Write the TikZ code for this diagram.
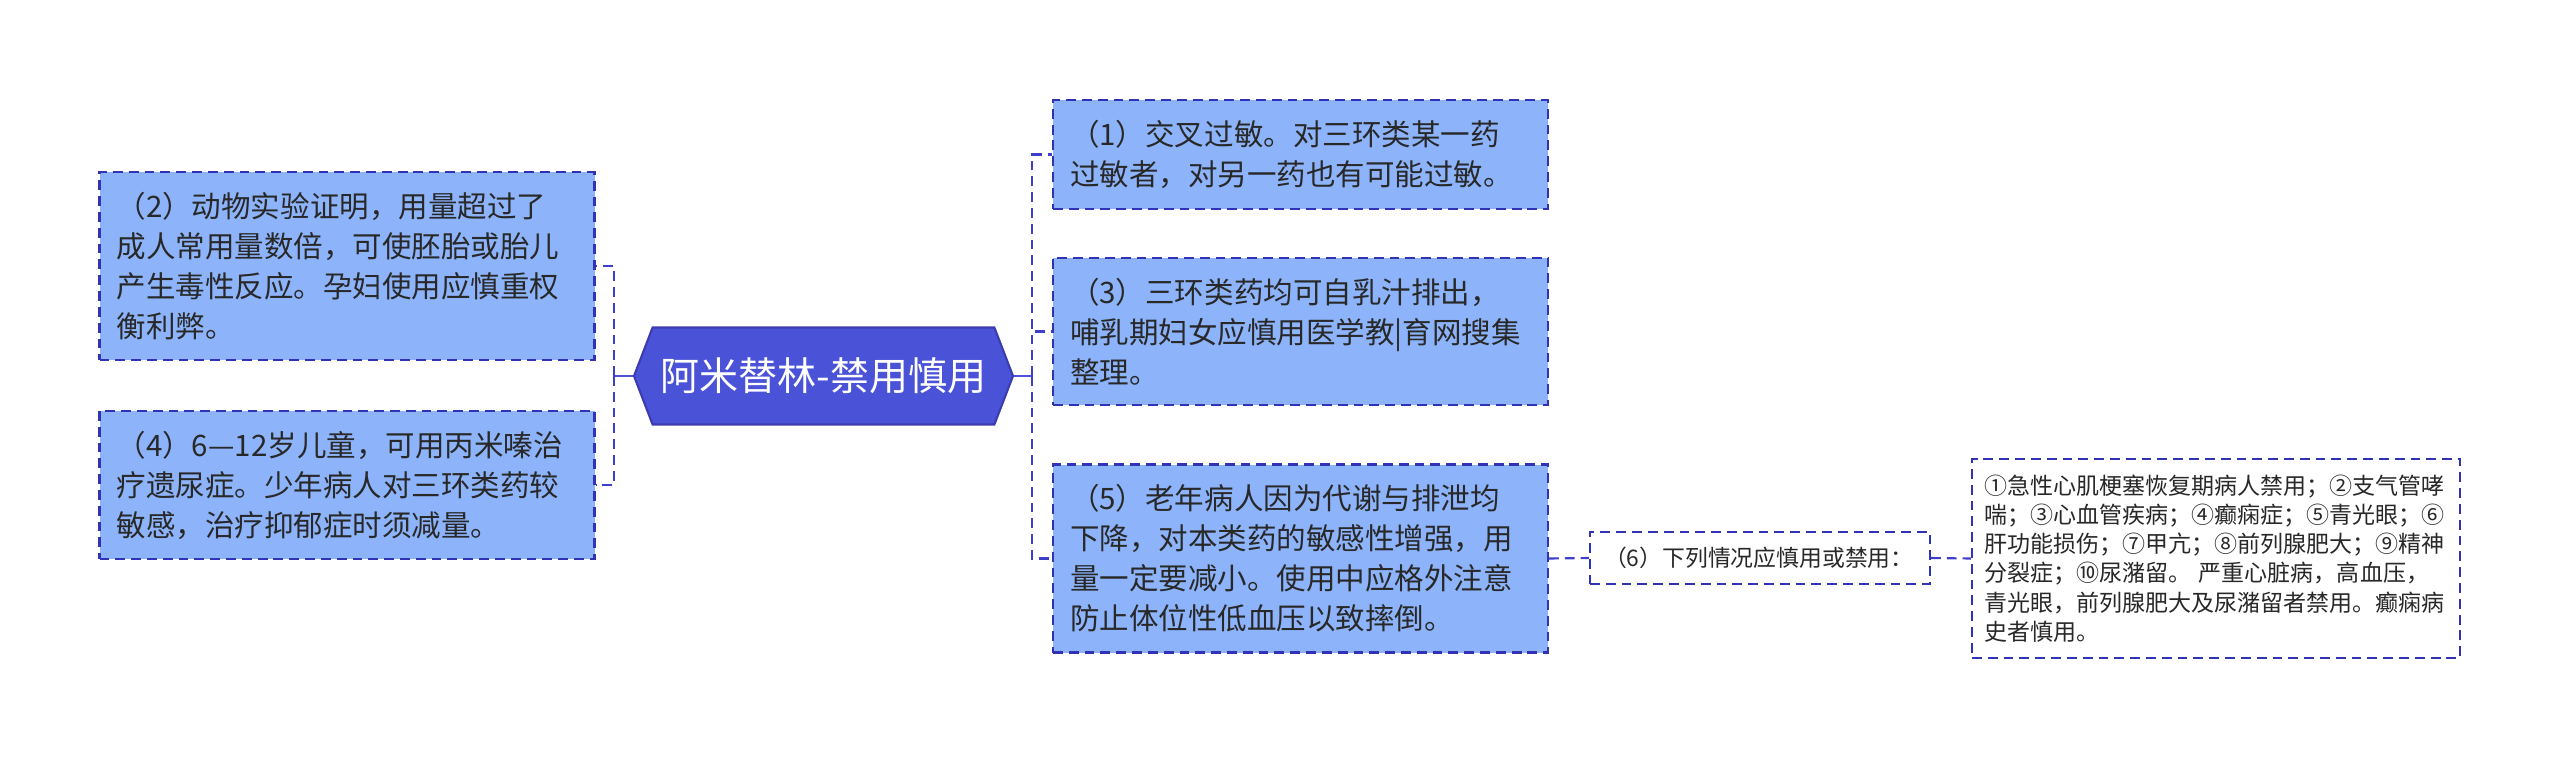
\documentclass[tikz,border=0pt]{standalone}
\usepackage{fontspec}
\setmainfont{Noto Sans CJK SC}
\usetikzlibrary{shapes.symbols}
\definecolor{leaffill}{RGB}{141,180,250}
\definecolor{leafline}{RGB}{50,50,180}
\definecolor{hubfill}{RGB}{74,82,216}
\definecolor{hubline}{RGB}{60,60,175}
\definecolor{linkcol}{RGB}{62,62,200}
\definecolor{inkcol}{RGB}{40,40,40}
\tikzset{
    mind diagram/.style = {line join=miter},
    hub/.style   = {signal, signal to=west and east, signal pointer angle=138,
                    draw=hubline, fill=hubfill, text=white, line width=0.6pt,
                    minimum width=3.79cm, minimum height=0.97cm, inner xsep=0pt,
                    font=\fontsize{11.1}{13}\selectfont},
    leaf/.style  = {draw=leafline, fill=leaffill, line width=0.6pt,
                    dash pattern=on 2.8pt off 1.7pt, text=inkcol, align=left,
                    inner xsep=0.17cm, inner ysep=0.2cm, text width=4.61cm,
                    font=\fontsize{8.4}{11.4}\selectfont},
    note/.style  = {leaf, fill=white},
    tag/.style   = {note, text width=3.12cm, inner xsep=0.14cm, inner ysep=0.1cm,
                    minimum height=0.52cm, font=\fontsize{6.5}{8}\selectfont},
    list/.style  = {note, text width=4.64cm, inner xsep=0.12cm, inner ysep=0.16cm,
                    font=\fontsize{6.55}{8.33}\selectfont},
    stem/.style  = {draw=hubfill, line width=0.7pt},
    link/.style  = {draw=linkcol, line width=0.6pt, dash pattern=on 2.8pt off 1.7pt}
}
\begin{document}
\begin{tikzpicture}[mind diagram]
\useasboundingbox (0,0) rectangle (25.6,-7.59);

% ================= Centre =================
\node[hub] (hub) at (8.235,-3.76) {阿米替林-禁用慎用};

% ================= Left side =================
\node[leaf] (b2) at (3.47,-2.66) {（2）动物实验证明，用量超过了\\成人常用量数倍，可使胚胎或胎儿\\产生毒性反应。孕妇使用应慎重权\\衡利弊。};
\node[leaf] (b4) at (3.47,-4.85) {（4）6—12岁儿童，可用丙米嗪治\\疗遗尿症。少年病人对三环类药较\\敏感，治疗抑郁症时须减量。};

% ================= Right side =================
\node[leaf] (b1) at (13.005,-1.545) {（1）交叉过敏。对三环类某一药\\过敏者，对另一药也有可能过敏。};
\node[leaf] (b3) at (13.005,-3.315) {（3）三环类药均可自乳汁排出，\\哺乳期妇女应慎用医学教|育网搜集\\整理。};
\node[leaf] (b5) at (13.005,-5.585) {（5）老年病人因为代谢与排泄均\\下降，对本类药的敏感性增强，用\\量一定要减小。使用中应格外注意\\防止体位性低血压以致摔倒。};

% ================= Sub branch of (5) =================
\node[tag] (b6) at (17.60,-5.58) {（6）下列情况应慎用或禁用：};
\node[list] (b7) at (22.16,-5.585) {①急性心肌梗塞恢复期病人禁用；②支气管哮\\喘；③心血管疾病；④癫痫症；⑤青光眼；⑥\\肝功能损伤；⑦甲亢；⑧前列腺肥大；⑨精神\\分裂症；⑩尿潴留。 严重心脏病，高血压，\\青光眼，前列腺肥大及尿潴留者禁用。癫痫病\\史者慎用。};

% ================= Connectors =================
\coordinate (lj) at (6.14,-3.76);
\coordinate (rj) at (10.32,-3.76);
\draw[stem] (hub.west) -- (lj);
\draw[stem] (hub.east) -- (rj);
\draw[link] (lj) |- (b2.east);
\draw[link] (lj) |- (b4.east);
\draw[link] (rj) |- (b1.west);
\draw[link] (rj) |- (b3.west);
\draw[link] (rj) |- (b5.west);
\draw[link] (b5.east) -- (b6.west);
\draw[link] (b6.east) -- (b7.west);

\end{tikzpicture}
\end{document}
